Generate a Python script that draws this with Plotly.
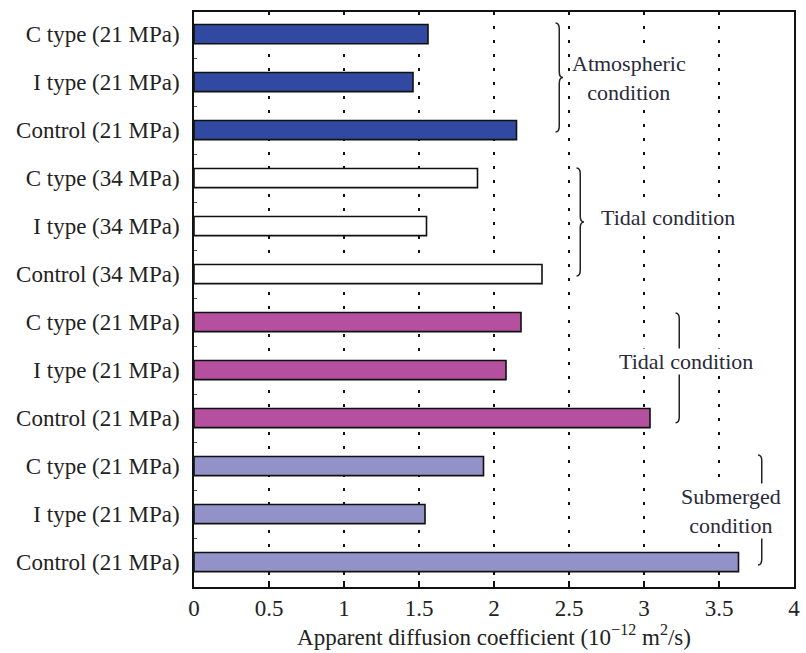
import plotly.graph_objects as go

labels = ["C type (21 MPa)", "I type (21 MPa)", "Control (21 MPa)",
          "C type (34 MPa)", "I type (34 MPa)", "Control (34 MPa)",
          "C type (21 MPa)", "I type (21 MPa)", "Control (21 MPa)",
          "C type (21 MPa)", "I type (21 MPa)", "Control (21 MPa)"]
values = [1.56, 1.46, 2.15,
          1.89, 1.55, 2.32,
          2.18, 2.08, 3.04,
          1.93, 1.54, 3.63]
group_colors = ["#3149A0", "#FFFFFF", "#B5509E", "#9292C8"]
group_names = ["Atmospheric<br>condition", "Tidal condition", "Tidal condition", "Submerged<br>condition"]
xticks = [0, 0.5, 1, 1.5, 2, 2.5, 3, 3.5, 4]

FONT = "Liberation Serif"
FS = 23
pos = list(range(len(labels)))
colors = [group_colors[i // 3] for i in pos]

fig = go.Figure()
fig.add_trace(go.Bar(
    x=values, y=pos, orientation="h", width=0.4,
    marker=dict(color=colors, line=dict(color="#111111", width=1.6)),
    showlegend=False, hoverinfo="x"))

def brace(x, y0, y1, w):
    ym = (y0 + y1) / 2
    d = 0.12
    return (f"M {x},{y0} Q {x+w},{y0} {x+w},{y0+d} L {x+w},{ym-d} "
            f"Q {x+w},{ym} {x+2*w},{ym} Q {x+w},{ym} {x+w},{ym+d} "
            f"L {x+w},{y1-d} Q {x+w},{y1} {x},{y1}")

# brace (x, y0, y1) and label position (x, y)
braces = [(2.41, -0.23, 2.04), (2.55, 2.79, 5.04), (3.21, 5.81, 8.10), (3.76, 8.77, 11.06)]
texts = [(2.90, 0.92), (3.16, 3.83), (3.28, 6.83), (3.58, 9.94)]

for (bx, y0, y1) in braces:
    fig.add_shape(type="path", path=brace(bx, y0, y1, 0.025), xref="x", yref="y",
                  line=dict(color="#222222", width=1.5))
for name, (tx, ty) in zip(group_names, texts):
    fig.add_annotation(x=tx, y=ty, xref="x", yref="y", text=name, showarrow=False,
                       font=dict(family=FONT, size=FS - 1, color="#2a2a3a"),
                       bgcolor="white", borderpad=0)

fig.update_xaxes(range=[0, 4], tickvals=xticks,
                 ticktext=[f"{v:g}" for v in xticks],
                 showgrid=True, gridcolor="#111111", gridwidth=1.6, griddash="3px,11px",
                 showline=True, linecolor="#111111", linewidth=1.5, mirror=True,
                 ticks="inside", ticklen=6, tickcolor="#111111", tickwidth=1.5,
                 zeroline=False,
                 tickfont=dict(family=FONT, size=FS, color="#222222"),
                 title=dict(text="Apparent diffusion coefficient (10<sup>−12</sup> m<sup>2</sup>/s)",
                            font=dict(family=FONT, size=FS, color="#222222"), standoff=4))
fig.update_yaxes(range=[11.52, -0.46], tickvals=pos, ticktext=labels,
                 showgrid=False, zeroline=False,
                 showline=True, linecolor="#111111", linewidth=1.5, mirror=True,
                 ticks="", ticklabelstandoff=8,
                 tickfont=dict(family=FONT, size=FS, color="#222222"),
                 minor=dict(tickvals=[p + 0.5 for p in pos[:-1]], ticks="inside",
                            ticklen=3, tickcolor="#555555", tickwidth=1, showgrid=False))
fig.update_layout(width=806, height=653, margin=dict(l=194, r=6, t=12, b=66),
                  plot_bgcolor="white", paper_bgcolor="white", bargap=0.6)
fig.write_html("out.html")
